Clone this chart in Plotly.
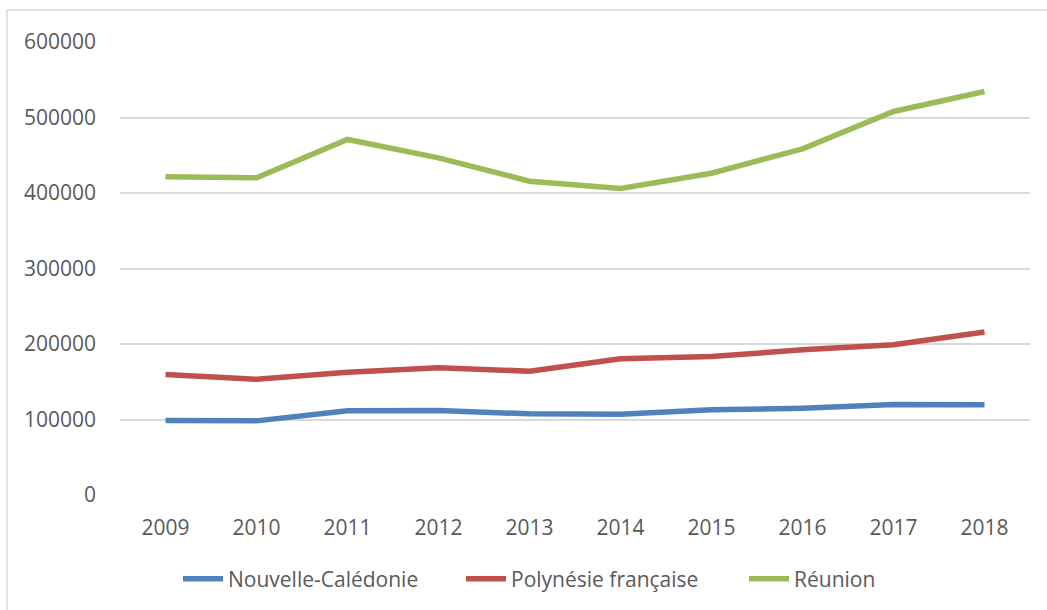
import plotly.graph_objects as go

years = ["2009", "2010", "2011", "2012", "2013", "2014", "2015", "2016", "2017", "2018"]
nouvelle_caledonie = [98700, 98200, 111500, 111900, 107500, 106800, 112800, 115000, 119800, 119500]
polynesie_francaise = [159600, 153200, 162600, 168500, 164000, 180400, 183400, 192300, 198900, 215800]
reunion = [421400, 420100, 470900, 446600, 415600, 406000, 426200, 458500, 508000, 534400]

series = [
    ("Nouvelle-Calédonie", nouvelle_caledonie, "#4F81BD"),
    ("Polynésie française", polynesie_francaise, "#C0504D"),
    ("Réunion", reunion, "#9BBB59"),
]

fig = go.Figure()
for name, vals, color in series:
    fig.add_trace(go.Scatter(x=years, y=vals, name=name, mode="lines",
                             line=dict(color=color, width=5.5)))

L, R, T, B = 120, 17, 42, 114
W, H = 1047, 610
pw, ph = W - L - R, H - T - B

fig.update_layout(
    width=W, height=H,
    margin=dict(l=L, r=R, t=T, b=B, pad=0),
    plot_bgcolor="white", paper_bgcolor="white",
    font=dict(family="Open Sans", size=21, color="#595959"),
    showlegend=True,
    legend=dict(orientation="h", x=(178 - L) / pw, xanchor="left", y=((H - B) - 579) / ph,
                yanchor="middle", font=dict(size=21, color="#595959"),
                itemwidth=40, tracegroupgap=0, entrywidth=228, entrywidthmode="pixels"),
    xaxis=dict(type="category", range=[-0.5, 9.5], showgrid=False, zeroline=False,
               showline=False, ticks="", ticklabelstandoff=18),
    yaxis=dict(range=[0, 600000], dtick=100000, tickformat="d", showgrid=True,
               gridcolor="#D9D9D9", gridwidth=1.5, zeroline=False, showline=False,
               ticks="", ticklabelstandoff=23),
    shapes=[dict(type="rect", xref="paper", yref="paper",
                 x0=(7 - L) / pw, x1=(1060 - L) / pw,
                 y0=(H - 620 - B) / ph, y1=1 + (T - 10) / ph,
                 line=dict(color="#D9D9D9", width=1.5), fillcolor="rgba(0,0,0,0)",
                 layer="below")],
)

fig.write_html("out.html", config={"displayModeBar": False},
               post_script="document.body.style.margin='0px';document.body.style.padding='0px';")
